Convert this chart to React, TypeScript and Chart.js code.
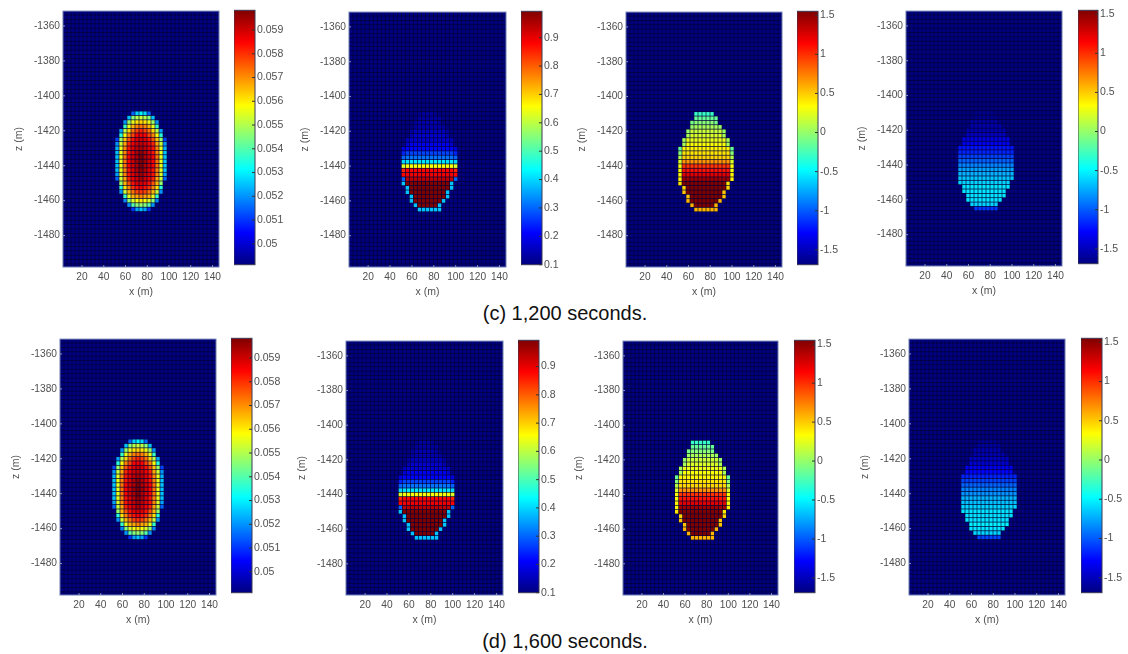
import React, { useEffect, useRef } from "react";
import { Chart, registerables } from "chart.js";

Chart.register(...registerables);

const X_TICKS = [20, 40, 60, 80, 100, 120, 140];
const Z_TICKS = [-1360, -1380, -1400, -1420, -1440, -1460, -1480];
const TICKS_POROSITY = [0.05, 0.051, 0.052, 0.053, 0.054, 0.055, 0.056, 0.057, 0.058, 0.059];
const TICKS_SAT = [0.1, 0.2, 0.3, 0.4, 0.5, 0.6, 0.7, 0.8, 0.9];
const TICKS_VEL = [-1.5, -1, -0.5, 0, 0.5, 1, 1.5];

// plume outline: first and last grid column per row, top row first
const MASK_L = [18, 18, 17, 17, 16, 16, 15, 15, 14, 14, 14, 14, 14, 14, 14, 14, 14, 15, 15, 16, 16, 17, 18];
const MASK_R = [22, 23, 23, 24, 25, 25, 26, 26, 27, 27, 27, 27, 27, 27, 27, 27, 26, 26, 25, 25, 24, 23, 23];

// values x 1e-4, from the centre column outwards (0 = background)
const ELLIPSE = [
  [530, 528, 515, 0, 0, 0, 0],
  [552, 550, 545, 525, 0, 0, 0],
  [562, 560, 556, 548, 520, 0, 0],
  [572, 570, 565, 556, 538, 0, 0],
  [580, 578, 572, 562, 550, 522, 0],
  [586, 584, 578, 570, 558, 535, 0],
  [589, 587, 583, 576, 564, 548, 512],
  [591, 589, 586, 580, 568, 552, 520],
  [593, 591, 587, 582, 570, 555, 523],
  [595, 592, 588, 583, 571, 556, 525],
  [597, 593, 589, 584, 572, 556, 526],
  [598, 594, 589, 584, 572, 556, 526],
  [597, 593, 589, 584, 572, 556, 526],
  [596, 592, 588, 583, 571, 556, 525],
  [594, 591, 587, 582, 570, 554, 522],
  [592, 589, 586, 580, 568, 552, 516],
  [589, 587, 583, 576, 565, 548, 0],
  [585, 583, 579, 571, 560, 535, 0],
  [579, 577, 573, 565, 552, 520, 0],
  [570, 568, 565, 556, 538, 0, 0],
  [560, 558, 554, 545, 518, 0, 0],
  [548, 546, 540, 520, 0, 0, 0],
  [525, 522, 510, 0, 0, 0, 0],
];

const SAT_ROWS = [0.13, 0.14, 0.15, 0.15, 0.16, 0.17, 0.18, 0.2, 0.22, 0.27, 0.32, 0.42, 0.65, 0.87, 0.89, 0.93, 0.98, 0.99, 0.99, 0.99, 0.99, 0.99, 0.38];
const SAT_EDGE = [0.12, 0.13, 0.13, 0.14, 0.14, 0.15, 0.16, 0.17, 0.19, 0.25, 0.3, 0.4, 0.62, 0.85, 0.87, 0.3, 0.38, 0.38, 0.38, 0.38, 0.38, 0.38, 0.38];

const VEL_ROWS = [-0.3, -0.15, -0.05, 0.05, 0.15, 0.22, 0.28, 0.32, 0.36, 0.4, 0.48, 0.65, 0.95, 1.05, 1.2, 1.4, 1.5, 1.52, 1.53, 1.54, 1.53, 1.5, 0.55];
const VEL_EDGE = [-0.3, -0.15, -0.1, 0, 0, 0.05, 0.05, 0.05, -0.15, -0.05, 0.1, 0.2, 0.3, 0.33, 0.35, 0.35, 0.4, 0.45, 0.5, 0.5, 0.55, 0.55, 0.55];

const DVEL_ROWS_C = [-1.62, -1.6, -1.56, -1.53, -1.5, -1.44, -1.38, -1.3, -1.22, -1.14, -1.04, -0.95, -0.85, -0.76, -0.7, -0.65, -0.6, -0.57, -0.55, -0.54, -0.56, -0.62, -1.12];
const DVEL_ROWS_D = [-1.6, -1.58, -1.52, -1.5, -1.45, -1.4, -1.32, -1.24, -1.15, -1.06, -0.96, -0.87, -0.78, -0.7, -0.64, -0.6, -0.57, -0.55, -0.53, -0.52, -0.54, -0.58, -1.08];

const CAPTIONS = ["(c) 1,200 seconds.", "(d) 1,600 seconds."];

const FONT = "'Liberation Sans', Arial, sans-serif";
const TEXT = "#505050";

function jet(t: number): string {
  const q = Math.min(63, Math.max(0, Math.floor(t * 64))) / 63;
  const f = (v: number) => Math.round(255 * Math.min(1, Math.max(0, 1.5 - Math.abs(4 * q - v))));
  return `rgb(${f(3)},${f(2)},${f(1)})`;
}

type Field = (row: number, c: number) => number | null;

const ellipseField: Field = (row, c) => {
  const i = Math.abs(c - 20);
  const v = i <= 6 ? ELLIPSE[row][i] : 0;
  return v ? v * 1e-4 : null;
};

const bandField = (rows: number[], edge: number[]): Field => (row, c) => {
  if (c < MASK_L[row] || c > MASK_R[row]) return null;
  return c === MASK_L[row] || c === MASK_R[row] ? edge[row] : rows[row];
};

const P = {
  por: { min: 0.04912, max: 0.05983, ticks: TICKS_POROSITY },
  sat: { min: 0.1, max: 0.993, ticks: TICKS_SAT },
  vel: { min: -1.69, max: 1.55, ticks: TICKS_VEL },
};

const PANELS = [
  { x: 63, y: 8, w: 156, h: 259, cb: 234, cbW: 21, range: P.por, field: ellipseField },
  { x: 349, y: 9, w: 157, h: 258, cb: 521, cbW: 21, range: P.sat, field: bandField(SAT_ROWS, SAT_EDGE) },
  { x: 626, y: 9, w: 156, h: 258, cb: 797, cbW: 21, range: P.vel, field: bandField(VEL_ROWS, VEL_EDGE) },
  { x: 906, y: 8, w: 156, h: 258, cb: 1078, cbW: 20, range: P.vel, field: bandField(DVEL_ROWS_C, DVEL_ROWS_C) },
  { x: 60, y: 336, w: 156, h: 259, cb: 231, cbW: 21, range: P.por, field: ellipseField },
  { x: 346, y: 338, w: 157, h: 257, cb: 518, cbW: 21, range: P.sat, field: bandField(SAT_ROWS, SAT_EDGE) },
  { x: 623, y: 338, w: 155, h: 257, cb: 794, cbW: 21, range: P.vel, field: bandField(VEL_ROWS, VEL_EDGE) },
  { x: 909, y: 336, w: 156, h: 259, cb: 1081, cbW: 21, range: P.vel, field: bandField(DVEL_ROWS_D, DVEL_ROWS_D) },
];

const COLS = Array.from({ length: 39 }, (_, i) => String(i + 1));
const ROW_COUNT = 59;

const frame = {
  id: "frame",
  beforeDatasetsDraw(chart: any) {
    const o = chart.options.plugins.frame;
    const a = chart.chartArea;
    if (o.back) {
      chart.ctx.fillStyle = o.back;
      chart.ctx.fillRect(a.left, a.top, a.width, a.height);
    }
  },
  afterDatasetsDraw(chart: any) {
    const o = chart.options.plugins.frame;
    const a = chart.chartArea;
    const c = chart.ctx;
    c.save();
    c.strokeStyle = o.line;
    c.lineWidth = 1;
    c.strokeRect(a.left, a.top, a.width, a.height);
    const ys = chart.scales.y;
    c.strokeStyle = o.tick;
    c.beginPath();
    ys.ticks.forEach((t: any) => {
      const p = ys.getPixelForValue(t.value);
      if (o.side === "right") {
        c.moveTo(a.right - 3, p);
        c.lineTo(a.right, p);
      } else {
        c.moveTo(a.left, p);
        c.lineTo(a.left + 2, p);
      }
    });
    if (o.side !== "right") {
      const xs = chart.scales.x;
      xs.ticks.forEach((t: any) => {
        const p = xs.getPixelForValue(t.value);
        c.moveTo(p, a.bottom);
        c.lineTo(p, a.bottom - 2);
      });
    }
    c.stroke();
    c.restore();
  },
};

function heatChart(canvas: HTMLCanvasElement, p: any) {
  const datasets: any[] = [];
  for (let r = 0; r < ROW_COUNT; r++) {
    const z = -1352.5 - 2.5 * r;
    const k = r - 23;
    const colors = COLS.map((_, i) => {
      const v = k >= 0 && k < 23 ? p.field(k, i + 1) : null;
      const t = ((v === null ? p.range.min : v) - p.range.min) / (p.range.max - p.range.min);
      return jet(t);
    });
    datasets.push({
      xAxisID: "xc",
      yAxisID: "y",
      grouped: false,
      barPercentage: 0.84,
      categoryPercentage: 1,
      borderWidth: 0,
      backgroundColor: colors,
      data: COLS.map(() => [z - 1.05, z + 1.05]),
    });
  }
  const tickFont = { family: FONT, size: 10.2 };
  return new Chart(canvas, {
    type: "bar",
    data: { labels: COLS, datasets },
    plugins: [frame],
    options: {
      animation: false,
      responsive: false,
      events: [],
      layout: { autoPadding: false, padding: { top: 6, right: 12, left: 0, bottom: 0 } },
      plugins: {
        legend: { display: false },
        tooltip: { enabled: false },
        frame: { back: "#000034", line: "#6c7cb4", tick: "#8a8fb0", side: "left" },
      },
      scales: {
        xc: { type: "category", axis: "x", display: false, labels: COLS, offset: true },
        x: {
          type: "linear",
          axis: "x",
          position: "bottom",
          min: 2.5,
          max: 146,
          offset: false,
          grid: { display: false, drawTicks: false },
          border: { display: false },
          afterBuildTicks: (s: any) => (s.ticks = X_TICKS.map((value) => ({ value }))),
          afterFit: (s: any) => (s.height = 31),
          ticks: { color: TEXT, font: tickFont, padding: 4, autoSkip: false, maxRotation: 0, callback: (v: any) => String(v) },
          title: { display: true, text: "x (m)", color: TEXT, font: { family: FONT, size: 10.5 }, padding: 0 },
        },
        y: {
          type: "linear",
          position: "left",
          min: -1498,
          max: -1351.5,
          grid: { display: false, drawTicks: false },
          border: { display: false },
          afterBuildTicks: (s: any) => (s.ticks = Z_TICKS.map((value) => ({ value }))),
          afterFit: (s: any) => (s.width = 50),
          ticks: { color: TEXT, font: tickFont, padding: 3, autoSkip: false, callback: (v: any) => String(v) },
          title: { display: true, text: "z (m)", color: TEXT, font: { family: FONT, size: 10.5 }, padding: 0 },
        },
      },
    } as any,
  });
}

function barChart(canvas: HTMLCanvasElement, p: any) {
  return new Chart(canvas, {
    type: "bar",
    data: {
      labels: ["scale"],
      datasets: [
        {
          data: [[p.range.min, p.range.max]],
          barPercentage: 1,
          categoryPercentage: 1,
          borderWidth: 0,
          backgroundColor: (ctx: any) => {
            const a = ctx.chart.chartArea;
            if (!a) return "#000080";
            const g = ctx.chart.ctx.createLinearGradient(0, a.bottom, 0, a.top);
            g.addColorStop(0, "#000080");
            g.addColorStop(0.125, "#0000ff");
            g.addColorStop(0.375, "#00ffff");
            g.addColorStop(0.625, "#ffff00");
            g.addColorStop(0.875, "#ff0000");
            g.addColorStop(1, "#800000");
            return g;
          },
        },
      ],
    },
    plugins: [frame],
    options: {
      animation: false,
      responsive: false,
      events: [],
      layout: { autoPadding: false, padding: { top: 6, bottom: 6, left: 0, right: 0 } },
      plugins: {
        legend: { display: false },
        tooltip: { enabled: false },
        frame: { back: null, line: "#3a3a55", tick: "#333333", side: "right" },
      },
      scales: {
        x: { display: false },
        y: {
          type: "linear",
          position: "right",
          min: p.range.min,
          max: p.range.max,
          grid: { display: false, drawTicks: false },
          border: { display: false },
          afterBuildTicks: (s: any) => (s.ticks = p.range.ticks.map((value: number) => ({ value }))),
          afterFit: (s: any) => (s.width = 40),
          ticks: { color: TEXT, font: { family: FONT, size: 10.5 }, padding: 2, autoSkip: false, callback: (v: any) => String(v) },
        },
      },
    } as any,
  });
}

export default function App() {
  const heatRefs = useRef<(HTMLCanvasElement | null)[]>([]);
  const barRefs = useRef<(HTMLCanvasElement | null)[]>([]);

  useEffect(() => {
    const charts: Chart[] = [];
    PANELS.forEach((p, i) => {
      charts.push(heatChart(heatRefs.current[i]!, p));
      charts.push(barChart(barRefs.current[i]!, p));
    });
    return () => charts.forEach((c) => c.destroy());
  }, []);

  return (
    <div style={{ position: "absolute", left: 0, top: 0, width: 1128, height: 654, background: "#fff", overflow: "hidden", filter: "blur(0.45px)" }}>
      {PANELS.map((p, i) => (
        <React.Fragment key={i}>
          <canvas
            ref={(el) => { heatRefs.current[i] = el; }}
            width={50 + p.w + 12}
            height={6 + p.h + 31}
            style={{ position: "absolute", left: p.x - 50, top: p.y - 6 }}
          />
          <canvas
            ref={(el) => { barRefs.current[i] = el; }}
            width={p.cbW + 40}
            height={p.h + 12}
            style={{ position: "absolute", left: p.cb, top: p.y - 6 }}
          />
        </React.Fragment>
      ))}
      {CAPTIONS.map((c, i) => (
        <div
          key={c}
          style={{
            position: "absolute",
            left: 0,
            width: 1130,
            top: i === 0 ? 304 : 632,
            textAlign: "center",
            font: `20px ${FONT}`,
            lineHeight: "18px",
            color: "#111",
          }}
        >
          {c}
        </div>
      ))}
    </div>
  );
}
